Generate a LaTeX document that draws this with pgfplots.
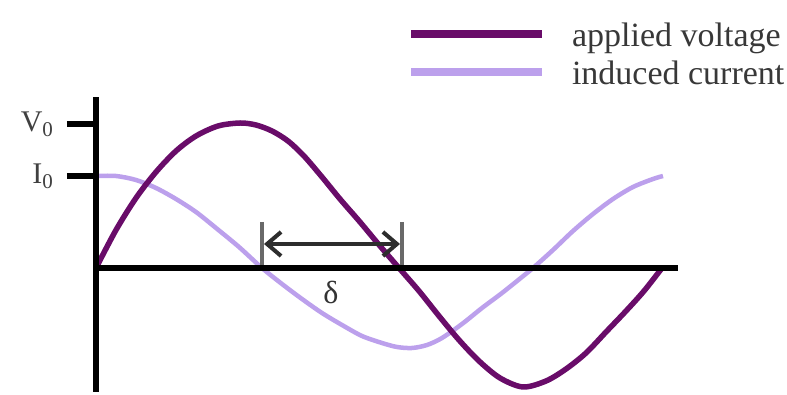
\documentclass[border=0pt]{standalone}
\usepackage{fontspec}
\setmainfont{Liberation Serif}
\usepackage{pgfplots}
\pgfplotsset{compat=1.18}
\usetikzlibrary{arrows.meta}
\definecolor{vcol}{RGB}{105,12,105}
\definecolor{icol}{RGB}{188,160,236}
\definecolor{arrcol}{RGB}{45,45,45}
\definecolor{barcol}{RGB}{105,105,105}
\begin{document}
\begin{tikzpicture}
\begin{axis}[
  x=1pt, y=1pt,
  xmin=0, xmax=582, ymin=-124, ymax=171,
  axis lines=middle,
  axis line style={line width=6pt, -, black},
  axis on top=true,
  clip=false,
  xtick=\empty,
  ytick={92,144},
  yticklabels={I\textsubscript{0}, V\textsubscript{0}},
  tick align=outside,
  major tick length=29pt,
  tick style={line width=6pt, black},
  yticklabel style={font=\fontsize{30}{34}\selectfont, text=black!75, xshift=-10pt},
  reverse legend,
  legend image code/.code={\draw[#1, line width=8pt] (0pt,5pt) -- (131pt,5pt);},
  legend style={draw=none, fill=none, at={(axis cs:311,245)}, anchor=north west,
    inner sep=0pt, outer sep=0pt, row sep=6pt,
    font=\fontsize{34}{36}\selectfont, text=black!78,
    nodes={inner sep=0pt, text height=24pt, text depth=8pt},
    cells={anchor=west},
    /tikz/every odd column/.append style={column sep=26pt}},
]
\path (axis cs:-96,-124) rectangle (axis cs:691,268);
\addplot[icol, line width=4.5pt, smooth] coordinates {
(0,92) (20,92) (40,88) (60,80) (80,69) (100,56) (120,40) (143,21) (166,0)
(186,-16) (206,-31) (226,-45) (246,-57) (266,-68) (286,-75) (301,-79) (316,-80)
(331,-77) (346,-70) (366,-56) (386,-40) (406,-25) (426,-9) (437,0) (457,18) (477,37)
(497,54) (517,69) (537,81) (557,89) (567,92)
};
\addlegendentry{induced current}
\addplot[vcol, line width=5.5pt, smooth] coordinates {
(0,0) (20,38) (40,70) (60,96) (80,117) (100,132) (122,142) (144,145)
(160,143) (176,137) (192,127) (208,112) (226,91) (244,69) (264,46) (284,22) (303,0)
(323,-23) (343,-48) (363,-72) (383,-93) (404,-110) (427,-119) (450,-113)
(470,-101) (490,-85) (510,-64) (530,-43) (548,-23) (566,0)
};
\addlegendentry{applied voltage}
\draw[line width=4pt, barcol] (axis cs:166,46) -- (axis cs:166,0);
\draw[line width=4pt, barcol] (axis cs:306,46) -- (axis cs:306,0);
\draw[line width=4pt, arrcol, {Straight Barb[length=14pt,width=24pt]}-{Straight Barb[length=14pt,width=24pt]}] (axis cs:168,24) -- (axis cs:304,24);
\node[font=\fontsize{32}{34}\selectfont, text=black!80] at (axis cs:235,-24) {δ};
\end{axis}
\end{tikzpicture}
\end{document}
